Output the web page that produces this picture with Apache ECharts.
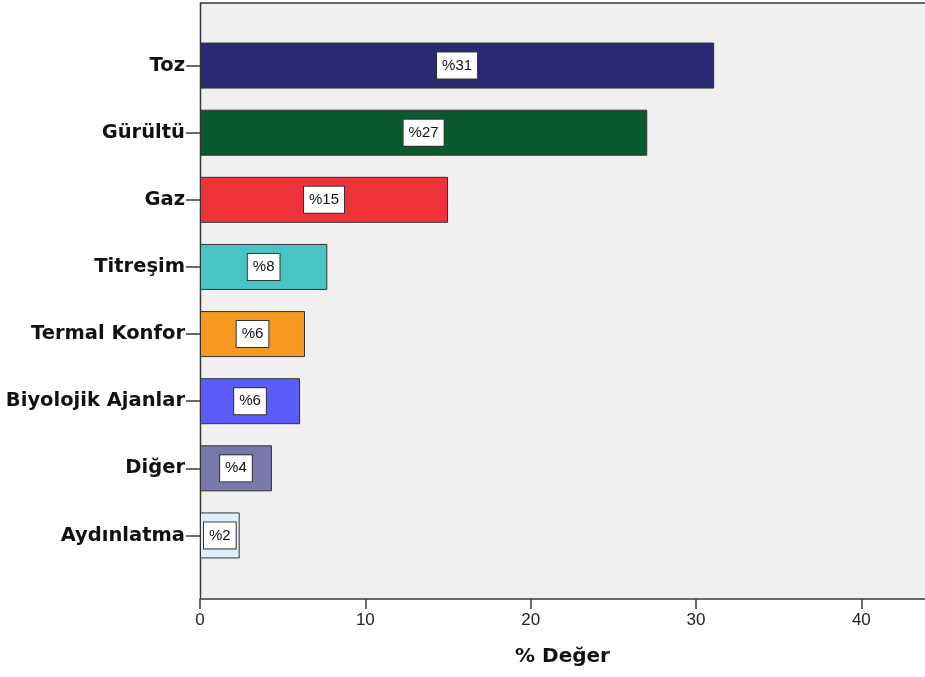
<!DOCTYPE html>
<html>
<head>
<meta charset="utf-8">
<script src="https://cdn.jsdelivr.net/npm/echarts@6/dist/echarts.min.js"></script>
<style>html,body{margin:0;padding:0;background:#fff;}#c{width:925px;height:677px;}</style>
</head>
<body>
<div id="c"></div>
<script>
const categories = ['Toz', 'Gürültü', 'Gaz', 'Titreşim', 'Termal Konfor', 'Biyolojik Ajanlar', 'Diğer', 'Aydınlatma'];
const values = [31.1, 27.05, 15.0, 7.7, 6.35, 6.05, 4.35, 2.4];
const valueLabels = ['%31', '%27', '%15', '%8', '%6', '%6', '%4', '%2'];
const xTicks = [0, 10, 20, 30, 40];
const axisTitle = '% Değer';
const barColors = ['#2a2a72', '#0b5a2f', '#ef333b', '#48c4c4', '#f7981f', '#5c5cfb', '#7878aa', '#e3eefb'];

const chart = echarts.init(document.getElementById('c'), null, {renderer: 'canvas'});
chart.setOption({
  backgroundColor: '#ffffff',
  animation: false,
  grid: [
    {left: 200, top: 32, right: 0, bottom: 108, containLabel: false},
    {left: 200, top: 3, right: 0, bottom: 78, show: true, backgroundColor: '#f0f0f0', borderWidth: 0}
  ],
  graphic: [{
    type: 'polyline',
    silent: true,
    z: 1,
    shape: {points: [[200.5, 599], [200.5, 3], [930, 3]]},
    style: {stroke: '#3a3a3a', lineWidth: 1.5, fill: null}
  }],
  xAxis: {
    type: 'value',
    gridIndex: 0,
    min: 0,
    max: 43.85,
    interval: 10,
    offset: 30,
    splitLine: {show: false},
    axisLine: {show: true, lineStyle: {color: '#3a3a3a', width: 1.5}},
    axisTick: {show: true, length: 10, customValues: xTicks, lineStyle: {color: '#3a3a3a', width: 1.5}},
    axisLabel: {
      customValues: xTicks,
      margin: 13,
      fontFamily: 'Liberation Sans',
      fontSize: 17,
      color: '#222'
    },
    name: axisTitle,
    nameLocation: 'middle',
    nameGap: 48,
    nameTextStyle: {fontFamily: 'DejaVu Sans', fontWeight: 'bold', fontSize: 20, color: '#111'}
  },
  yAxis: {
    type: 'category',
    gridIndex: 0,
    data: categories,
    inverse: true,
    boundaryGap: true,
    axisLine: {show: false},
    axisTick: {show: true, alignWithLabel: true, interval: 0, length: 14, lineStyle: {color: '#3a3a3a', width: 1.5}},
    axisLabel: {
      interval: 0,
      margin: 15,
      padding: [5, 0, 0, 0],
      fontFamily: 'DejaVu Sans',
      fontWeight: 'bold',
      fontSize: 19.5,
      color: '#111'
    }
  },
  series: [{
    type: 'bar',
    xAxisIndex: 0,
    yAxisIndex: 0,
    barWidth: 46,
    data: values.map((v, i) => ({
      value: v,
      itemStyle: {color: barColors[i]},
      label: {formatter: valueLabels[i]}
    })),
    itemStyle: {borderColor: '#333', borderWidth: 1},
    label: {
      show: true,
      position: 'inside',
      fontFamily: 'Liberation Sans',
      fontSize: 15,
      color: '#111',
      backgroundColor: '#ffffff',
      borderColor: '#333',
      borderWidth: 1,
      padding: [6, 5, 5, 5]
    }
  }]
});
</script>
</body>
</html>
